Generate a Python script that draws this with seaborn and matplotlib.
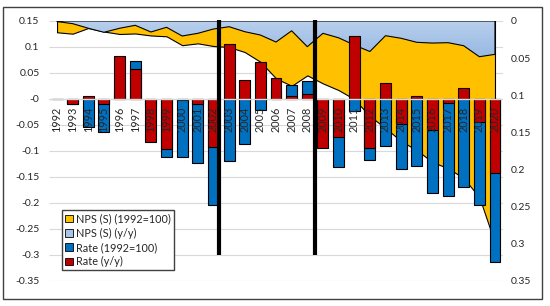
import numpy as np
import pandas as pd
import matplotlib
matplotlib.use('Agg')
import matplotlib.pyplot as plt
import seaborn as sns
from matplotlib.colors import LinearSegmentedColormap
from matplotlib.patches import Rectangle, Patch

years = [str(y) for y in range(1992, 2021)]

# left axis: bars
rate_idx = [0, -0.010, -0.053, -0.063, 0.013, 0.074, -0.014, -0.111, -0.112, -0.123,
            -0.203, -0.119, -0.087, -0.021, 0.018, 0.026, 0.035, -0.064, -0.131, -0.024,
            -0.118, -0.091, -0.134, -0.129, -0.180, -0.187, -0.169, -0.203, -0.313]
rate_yy = [0, -0.010, 0.006, -0.010, 0.082, 0.058, -0.082, -0.096, -0.002, -0.010,
           -0.093, 0.105, 0.037, 0.071, 0.040, 0.006, 0.010, -0.095, -0.073, 0.121,
           -0.095, 0.030, -0.049, 0.006, -0.060, -0.008, 0.022, -0.045, -0.142]

# right axis (inverted): areas
nps_idx = [0.0152, 0.0171, 0.0094, 0.0142, 0.0175, 0.0168, 0.0195, 0.0206, 0.0326, 0.0301,
           0.0337, 0.0350, 0.0418, 0.0549, 0.0772, 0.0873, 0.0732, 0.0840, 0.0930, 0.1051,
           0.1280, 0.1442, 0.1617, 0.1738, 0.1900, 0.1981, 0.2116, 0.2372, 0.2992]
nps_yy = [0.0007, 0.0036, 0.0098, 0.0152, 0.0098, 0.0058, 0.0148, 0.0085, 0.0202, 0.0166,
          0.0108, 0.0077, 0.0144, 0.0189, 0.0283, 0.0132, 0.0346, 0.0166, 0.0226, 0.0323,
          0.0411, 0.0198, 0.0233, 0.0287, 0.0297, 0.0292, 0.0333, 0.0481, 0.0449]

break_pos = [10.35, 16.5]

sns.set_theme(style='white')
plt.rcParams['font.family'] = ['Lato', 'DejaVu Sans']

fig = plt.figure(figsize=(5.5, 3.06), dpi=100)
ax = fig.add_axes([0.0895, 0.0817, 0.8247, 0.8497])
ax2 = ax.twinx()
ax.set_zorder(ax2.get_zorder() + 1)
ax.patch.set_visible(False)

df = pd.DataFrame({'year': years, 'rate_idx': rate_idx, 'rate_yy': rate_yy})
sns.barplot(data=df, x='year', y='rate_idx', color='#0070C0', saturation=1, width=0.7,
            edgecolor='black', linewidth=0.8, errorbar=None, ax=ax, zorder=3)
sns.barplot(data=df, x='year', y='rate_yy', color='#C00000', saturation=1, width=0.7,
            edgecolor='black', linewidth=0.8, errorbar=None, ax=ax, zorder=4)

# -------- areas on secondary axis --------
xs = np.arange(len(years))
ax2.hlines(np.arange(-0.35, 0.151, 0.05), -0.5, 28.5, transform=ax.transData,
           color='#D9D9D9', lw=0.8, zorder=0.5)
ax2.fill_between(xs, 0, nps_idx, facecolor='#FFC000', edgecolor='black', lw=0.8, zorder=2)
poly = ax2.fill_between(xs, 0, nps_yy, facecolor='none', edgecolor='black', lw=0.8, zorder=3)
cmap = LinearSegmentedColormap.from_list('g', ['#B9CFEC', '#8DB3E2'])
grad = ax2.imshow(np.linspace(0, 1, 256).reshape(-1, 1), cmap=cmap, aspect='auto',
                  extent=(-0.5, 28.5, 0.06, 0), origin='upper', zorder=2.5)
grad.set_clip_path(poly.get_paths()[0], ax2.transData)

ax2.set_xlim(-0.5, 28.5)
ax2.set_ylim(0.35, 0)
ax2.set_yticks(np.arange(0, 0.351, 0.05))
ax2.set_yticklabels([f'{v:g}' for v in np.round(np.arange(0, 0.351, 0.05), 2)])
ax2.tick_params(axis='y', length=0, pad=6, labelsize=7.5)
ax2.grid(False)

# -------- primary axis --------
ax.set_xlim(-0.5, 28.5)
ax.set_ylim(-0.35, 0.15)
yt = np.round(np.arange(-0.35, 0.151, 0.05), 2)
ax.set_yticks(yt)
ax.set_yticklabels([f'{v:g}' for v in yt])
ax.tick_params(axis='y', length=0, pad=7, labelsize=7.5)
ax.set_xticks([])
ax.set_xlabel('')
ax.set_ylabel('')
ax.grid(False)
ax.axhline(0, color='#D9D9D9', lw=1, zorder=5)
ax.vlines(break_pos, -0.30, 0.152, color='black', lw=3, zorder=6, clip_on=False)

for i, yr in enumerate(years):
    ax.annotate(yr, (i, 0), xytext=(0, -5.5), textcoords='offset points', rotation=90,
                ha='center', va='top', fontsize=7.8, zorder=10)

for a in (ax, ax2):
    for s in a.spines.values():
        s.set_visible(False)

handles = [Patch(facecolor='#FFC000', edgecolor='black', lw=0.6, label='NPS (S) (1992=100)'),
           Patch(facecolor='#A9C4E8', edgecolor='black', lw=0.6, label='NPS (S) (y/y)'),
           Patch(facecolor='#0070C0', edgecolor='black', lw=0.6, label='Rate (1992=100)'),
           Patch(facecolor='#C00000', edgecolor='black', lw=0.6, label='Rate (y/y)')]
leg = ax.legend(handles=handles, loc='upper left', bbox_to_anchor=(0.028, 0.273),
                borderaxespad=0, fancybox=False, edgecolor='#404040', framealpha=1,
                fontsize=7.8, handlelength=0.7, handleheight=0.7, handletextpad=0.3,
                labelspacing=0.3, borderpad=0.3)
leg.get_frame().set_linewidth(1.0)

fig.patches.append(Rectangle((2.5 / 550, 1 - 298.5 / 306), 539 / 550, 292 / 306,
                             transform=fig.transFigure, fill=False,
                             edgecolor='#404040', lw=1))

fig.savefig('out.png', dpi=100)
